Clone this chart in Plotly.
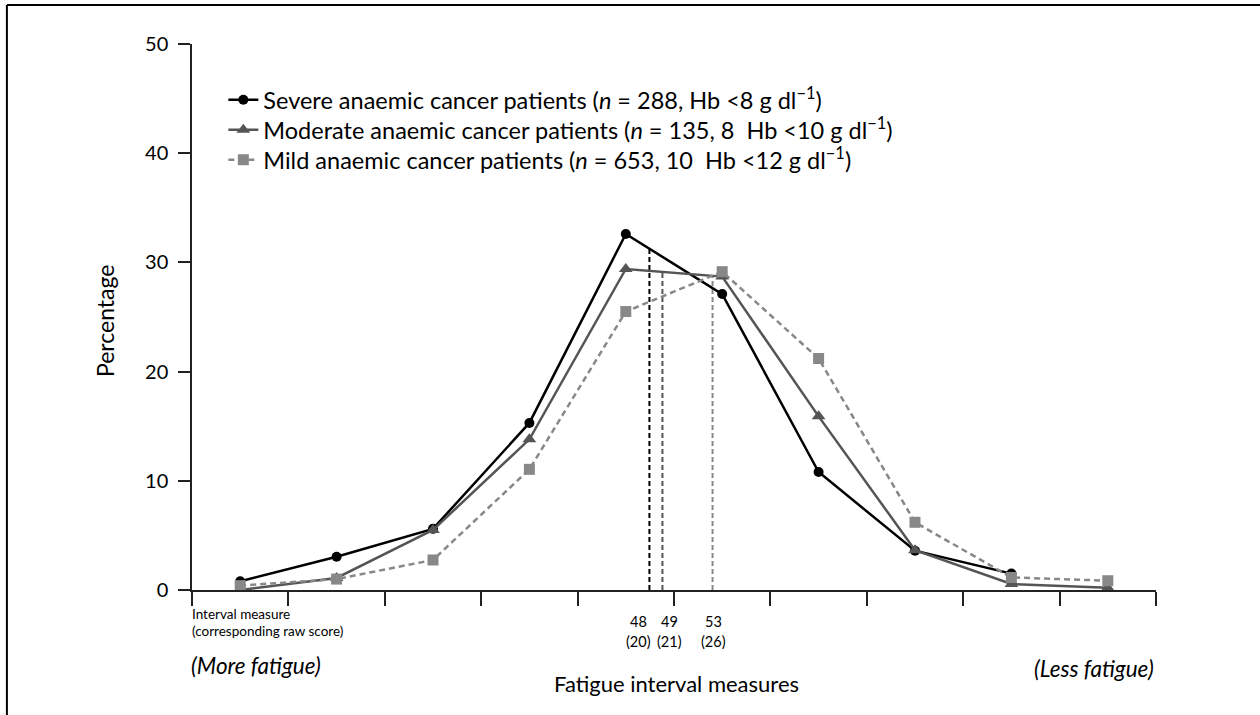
import numpy as np
import plotly.graph_objects as go

# ---- data ----
intervals = [1, 2, 3, 4, 5, 6, 7, 8, 9, 10]
severe = [0.8, 3.05, 5.6, 15.3, 32.6, 27.1, 10.8, 3.6, 1.5]
moderate = [0.0, 1.1, 5.5, 13.8, 29.4, 28.7, 15.9, 3.65, 0.55, 0.2]
mild = [0.4, 1.0, 2.75, 11.05, 25.5, 29.15, 21.2, 6.2, 1.15, 0.85]

names = [
    "Severe anaemic cancer patients (<i>n</i> = 288, Hb &lt;8 g dl<sup>\u22121</sup>)",
    "Moderate anaemic cancer patients (<i>n</i> = 135, 8 &nbsp;Hb &lt;10 g dl<sup>\u22121</sup>)",
    "Mild anaemic cancer patients (<i>n</i> = 653, 10 &nbsp;Hb &lt;12 g dl<sup>\u22121</sup>)",
]

# median interval measure (raw score) per group and its position on the interval axis
median_measure = [48, 49, 53]
median_raw = [20, 21, 26]
median_pos = [5.245, 5.38, 5.90]

y_ticks = [0, 10, 20, 30, 40, 50]

FONT = "Lato"
colors = ["#000000", "#555555", "#888888"]

fig = go.Figure()
series = [severe, moderate, mild]
symbols = ["circle", "triangle-up", "square"]
sizes = [10, 12, 11]
dashes = ["solid", "solid", "6px,4px"]
legend_ids = ["legend", "legend2", "legend3"]
for s, nm, c, sym, sz, d, lg in zip(series, names, colors, symbols, sizes, dashes, legend_ids):
    fig.add_trace(go.Scatter(
        x=intervals[:len(s)], y=s, name=nm, mode="lines+markers",
        line=dict(color=c, width=2.5, dash=d),
        marker=dict(symbol=sym, size=sz, color=c, line=dict(width=0)),
        legend=lg,
    ))

# median vertical lines
for pos, s, c in zip(median_pos, series, colors):
    top = float(np.interp(pos, intervals[:len(s)], s))
    fig.add_shape(type="line", xref="x", yref="y", x0=pos, x1=pos, y0=0, y1=top,
                  line=dict(color=c, width=2, dash="5px,3px"), layer="below")

# median labels
shifts = [-11, 7, 1]
for pos, m, r, sh in zip(median_pos, median_measure, median_raw, shifts):
    fig.add_annotation(x=pos, xref="x", y=0, yref="paper", text=str(m), showarrow=False,
                       xanchor="center", yanchor="middle", yshift=-31, xshift=sh,
                       font=dict(family=FONT, size=14.5, color="black"))
    fig.add_annotation(x=pos, xref="x", y=0, yref="paper", text=f"({r})", showarrow=False,
                       xanchor="center", yanchor="middle", yshift=-51, xshift=sh,
                       font=dict(family=FONT, size=14.5, color="black"))

def ann(text, x, xshift, yshift, xanchor, size, italic=False, angle=0):
    fig.add_annotation(x=x, xref="paper", y=0, yref="paper", text=text, showarrow=False,
                       xanchor=xanchor, yanchor="middle", xshift=xshift, yshift=yshift,
                       textangle=angle,
                       font=dict(family=FONT, size=size, color="black",
                                 style="italic" if italic else "normal"))

ann("Interval measure", 0, -2, -24, "left", 13.5)
ann("(corresponding raw score)", 0, -2, -41, "left", 13.5)
ann("(More fatigue)", 0, -3, -75, "left", 22.5, italic=True)
ann("(Less fatigue)", 1, 0, -78, "right", 22.5, italic=True)
ann("Fatigue interval measures", 0.503, 0, -93, "center", 22)

fig.add_annotation(x=0, xref="paper", y=0.5, yref="paper", text="Percentage", showarrow=False,
                   xanchor="center", yanchor="middle", xshift=-87, yshift=-4, textangle=-90,
                   font=dict(family=FONT, size=23, color="black"))

# figure frame (top and left edges)
fig.add_shape(type="line", xref="paper", yref="paper", x0=-0.192, x1=1.11, y0=1.0714, y1=1.0714,
              line=dict(color="black", width=2))
fig.add_shape(type="line", xref="paper", yref="paper", x0=-0.192, x1=-0.192, y0=1.0714, y1=-0.25,
              line=dict(color="black", width=2))

leg_common = dict(x=0.0325, xanchor="left", yanchor="middle", bgcolor="rgba(0,0,0,0)",
                  font=dict(family=FONT, size=23.5, color="black"))

fig.update_layout(
    width=1260, height=715,
    margin=dict(l=192, r=104, t=44, b=125),
    paper_bgcolor="white", plot_bgcolor="white",
    font=dict(family=FONT, color="black"),
    showlegend=True,
    legend=dict(y=0.8974, **leg_common),
    legend2=dict(y=0.8425, **leg_common),
    legend3=dict(y=0.7875, **leg_common),
    xaxis=dict(range=[0.5, 10.5], tickmode="linear", tick0=0.5, dtick=1,
               showticklabels=False, ticks="outside", ticklen=14, tickwidth=1.5,
               tickcolor="#222", showline=True, linecolor="#222", linewidth=1.5,
               showgrid=False, zeroline=False),
    yaxis=dict(range=[0, 50], tickvals=y_ticks, ticks="outside", ticklen=12,
               tickwidth=1.5, tickcolor="#222", showline=True, linecolor="#222",
               linewidth=1.5, showgrid=False, zeroline=False,
               tickfont=dict(family=FONT, size=20, color="black"), ticklabelstandoff=6),
)

fig.write_html("out.html")
